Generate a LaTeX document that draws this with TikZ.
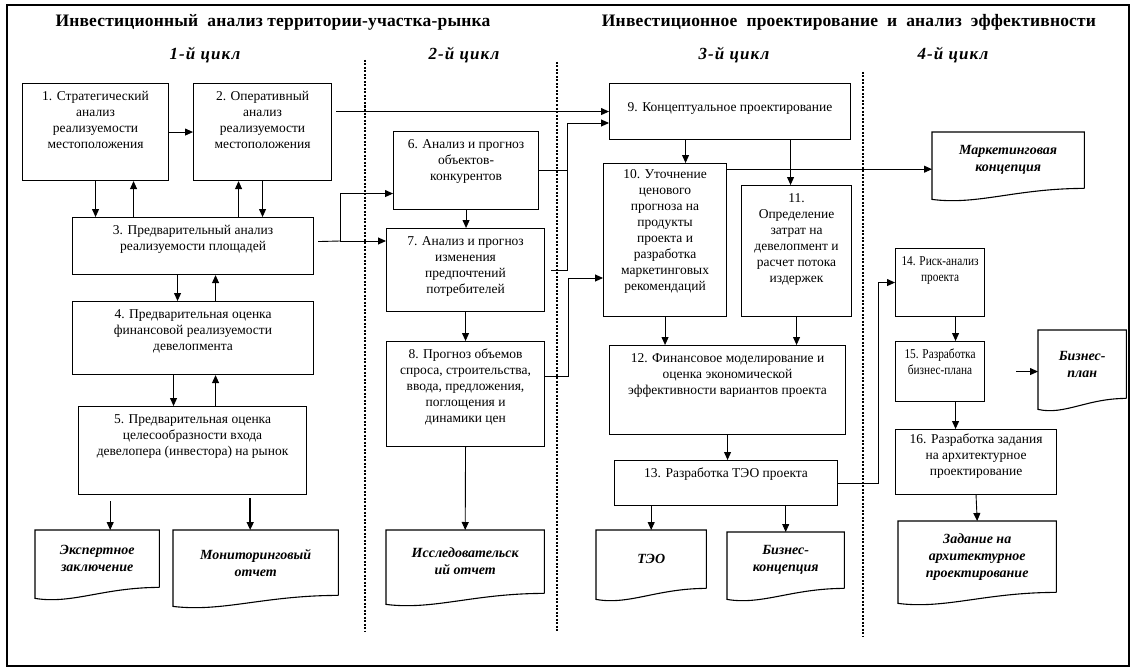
\documentclass[tikz,border=0pt]{standalone}
\usepackage{fontspec}
\setmainfont{Liberation Serif}
\newfontfamily\narrowfont{Liberation Serif}[FakeStretch=0.84]
\usetikzlibrary{calc,arrows.meta}

\tikzset{
  box/.style={draw, line width=1.1pt, anchor=north west, inner sep=0pt},
  txt/.style={anchor=north, align=center, inner sep=0pt, yshift=-8pt,
    font=\fontsize{13.5}{16}\selectfont},
  doc/.style={anchor=north west, inner sep=0pt, align=center,
    font=\fontsize{14}{17}\selectfont\bfseries\itshape},
  arr/.style={-{Triangle[width=7pt,length=8pt]}, line width=0.9pt},
  ln/.style={line width=0.9pt},
  sep/.style={line width=2pt, dash pattern=on 2pt off 1.5pt},
  ttl/.style={font=\fontsize{17.5}{20}\selectfont\bfseries\addfontfeatures{LetterSpace=1}},
  cyc/.style={font=\fontsize{17}{20}\selectfont\bfseries\itshape\addfontfeatures{LetterSpace=6}}
}

\begin{document}
\begin{tikzpicture}[x=1pt,y=-1pt]
  \useasboundingbox (0,0) rectangle (1136,669);
  \draw[line width=1.4pt] (7,5) rectangle (1129,666);

  %%%%% titles %%%%%
  \node[ttl] (t1) at (273,22) {Инвестиционный\ \ анализ территории-участка-рынка};
  \node[ttl] (t2) at (849,22) {Инвестиционное\ \ проектирование\ \ и\ \ анализ\ \ эффективности};
  \node[cyc] (c1) at (205,55) {1-й цикл};
  \node[cyc] (c2) at (464,55) {2-й цикл};
  \node[cyc] (c3) at (734,55) {3-й цикл};
  \node[cyc] (c4) at (953,55) {4-й цикл};

  \draw[sep] (365,60) -- (365,632);
  \draw[sep] (557,62) -- (557,632);
  \draw[sep] (863,72) -- (863,637);

  %%%%% 1-й цикл %%%%%
  \node[box, minimum width=146pt, minimum height=97pt,
    label={[txt]north:{1. Стратегический\\анализ\\реализуемости\\местоположения}}] (b1) at (22,83) {};
  \node[box, minimum width=138pt, minimum height=97pt,
    label={[txt]north:{2. Оперативный\\анализ\\реализуемости\\местоположения}}] (b2) at (193,83) {};
  \node[box, minimum width=241pt, minimum height=57pt,
    label={[txt]north:{3. Предварительный анализ\\реализуемости площадей}}] (b3) at (72,217) {};
  \node[box, minimum width=241pt, minimum height=73pt,
    label={[txt]north:{4. Предварительная оценка\\финансовой реализуемости\\девелопмента}}] (b4) at (72,301) {};
  \node[box, minimum width=228pt, minimum height=88pt,
    label={[txt]north:{5. Предварительная оценка\\целесообразности входа\\девелопера (инвестора) на рынок}}] (b5) at (78,406) {};

  \node[doc, minimum width=124pt, minimum height=57pt] (eksp) at (35,530) {Экспертное\\заключение};
  \node[doc, minimum width=165pt, minimum height=65pt] (monit) at (173,530) {Мониторинговый\\отчет};

  %%%%% 2-й цикл %%%%%
  \node[box, minimum width=145pt, minimum height=78pt,
    label={[txt]north:{6. Анализ и прогноз\\объектов-\\конкурентов}}] (b6) at (393,131) {};
  \node[box, minimum width=158pt, minimum height=83pt,
    label={[txt]north:{7. Анализ и прогноз\\изменения\\предпочтений\\потребителей}}] (b7) at (386,228) {};
  \node[box, minimum width=158pt, minimum height=105pt,
    label={[txt]north:{8. Прогноз объемов\\спроса, строительства,\\ввода, предложения,\\поглощения и\\динамики цен}}] (b8) at (386,341) {};

  \node[doc, minimum width=158pt, minimum height=63pt] (issl) at (386,530) {Исследовательск\\ий отчет};

  %%%%% 3-й цикл %%%%%
  \node[box, minimum width=241pt, minimum height=56pt,
    label={[txt, yshift=-11pt]north:{9. Концептуальное проектирование}}] (b9) at (609,83) {};
  \node[box, minimum width=123pt, minimum height=153pt,
    label={[txt, yshift=2pt]north:{10. Уточнение\\ценового\\прогноза на\\продукты\\проекта и\\разработка\\маркетинговых\\рекомендаций}}] (b10) at (603,163) {};
  \node[box, minimum width=110pt, minimum height=131pt,
    label={[txt]north:{11.\\Определение\\затрат на\\девелопмент и\\расчет потока\\издержек}}] (b11) at (741,185) {};
  \node[box, minimum width=236pt, minimum height=89pt,
    label={[txt]north:{12. Финансовое моделирование и\\оценка экономической\\эффективности вариантов проекта}}] (b12) at (609,345) {};
  \node[box, minimum width=223pt, minimum height=45pt,
    label={[txt]north:{13. Разработка ТЭО проекта}}] (b13) at (614,460) {};

  \node[doc, minimum width=110pt, minimum height=58pt] (teo) at (596,530) {ТЭО};
  \node[doc, minimum width=117pt, minimum height=56pt] (bizc) at (727,532) {Бизнес-\\концепция};
  \node[doc, minimum width=152pt, minimum height=56pt] (mark) at (932,132) {Маркетинговая\\концепция};

  %%%%% 4-й цикл %%%%%
  \node[box, minimum width=89pt, minimum height=68pt,
    label={[txt]north:{\narrowfont 14. Риск-анализ\\\narrowfont проекта}}] (b14) at (895,248) {};
  \node[box, minimum width=89pt, minimum height=60pt,
    label={[txt]north:{\narrowfont 15. Разработка\\\narrowfont бизнес-плана}}] (b15) at (895,341) {};
  \node[box, minimum width=161pt, minimum height=65pt,
    label={[txt, yshift=3pt]north:{16. Разработка задания\\на архитектурное\\проектирование}}] (b16) at (895,429) {};

  \node[doc, minimum width=88pt, minimum height=68pt] (bizp) at (1038,330) {Бизнес-\\план};
  \node[doc, minimum width=158pt, minimum height=71pt] (zad) at (898,521) {Задание на\\архитектурное\\проектирование};

  % document outlines with wavy bottom
  \foreach \dc in {eksp,monit,issl,teo,bizc,mark,bizp,zad}
    \draw[line width=1.1pt] (\dc.south east) -- (\dc.north east) -- (\dc.north west)
      -- ($(\dc.south west)+(0,11)$)
      .. controls ($(\dc.south west)!0.3!(\dc.south east)+(0,17)$)
      and ($(\dc.south west)!0.55!(\dc.south east)$) .. (\dc.south east);

  %%%%% arrows %%%%%
  \draw[arr] (b1) -- (b2);
  \draw[arr] (b1.south) -- (b1.south |- b3.north);
  \draw[arr] ([xshift=-59.5pt]b3.north) -- ([xshift=-59.5pt]b3.north |- b1.south);
  \draw[arr] (b2.south) -- (b2.south |- b3.north);
  \draw[arr] ([xshift=-24pt]b2.south |- b3.north) -- ([xshift=-24pt]b2.south);
  \draw[arr] ([xshift=-15.5pt]b3.south) -- ([xshift=-15.5pt]b4.north);
  \draw[arr] ([xshift=22.5pt]b4.north) -- ([xshift=22.5pt]b3.south);
  \draw[arr] ([xshift=-19.5pt]b4.south) -- ([xshift=-19.5pt]b4.south |- b5.north);
  \draw[arr] ([xshift=22.5pt]b4.south |- b5.north) -- ([xshift=22.5pt]b4.south);
  \draw[arr, shorten <=6pt] ([xshift=13pt]eksp.north |- b5.south) -- ([xshift=13pt]eksp.north);
  \draw[arr, line width=1.6pt, shorten <=3pt] ([xshift=-5.5pt]monit.north |- b5.south) -- ([xshift=-5.5pt]monit.north);

  \draw[arr] ([xshift=4pt]b2.east |- b9.west) -- (b9.west);
  \coordinate (j3) at (340,241);
  \draw[ln] ([xshift=4pt,yshift=4.5pt]b3.east) -- (j3);
  \draw[arr] (j3) |- ([yshift=-23pt]b6.west);
  \draw[arr] (j3) -- (j3 -| b7.west);
  \draw[arr] (b6.south) -- (b6.south |- b7.north);
  \draw[arr] (b7.south) -- (b7.south |- b8.north);
  \draw[arr] (b8.south) -- (issl.north);

  \coordinate (j6) at (567,123);
  \draw[arr] (b6.east) -| (j6) -- (j6 -| b9.west);
  \draw[ln] ([xshift=6pt]b7.east) -| (j6);
  \coordinate (j8) at (568,278);
  \draw[arr] ([yshift=18pt]b8.east) -| (j8) -- (j8 -| b10.west);

  \draw[arr] ([xshift=20.5pt]b10.north |- b9.south) -- ([xshift=20.5pt]b10.north);
  \draw[arr] ([xshift=-6pt]b11.north |- b9.south) -- ([xshift=-6pt]b11.north);
  \coordinate (jm) at ($(mark.west)+(0,9)$);
  \draw[arr] (b10.east |- jm) -- (jm);
  \draw[arr] (b10.south) -- (b10.south |- b12.north);
  \draw[arr] (b11.south) -- (b11.south |- b12.north);
  \draw[arr] (b12.south) -- (b12.south |- b13.north);
  \draw[arr] (b13.south -| teo.north) -- (teo.north);
  \draw[arr] (b13.south -| bizc.north) -- (bizc.north);
  \draw[arr] (b13.east) -- ++(40,0) |- (b14.west);

  \draw[arr] ([xshift=15.5pt]b14.south) -- ([xshift=15.5pt]b14.south |- b15.north);
  \draw[arr] ([xshift=15.5pt]b15.south) -- ([xshift=15.5pt]b15.south |- b16.north);
  \draw[arr] ([xshift=31pt]b15.east) -- (bizp.west |- b15.east);
  \draw[arr] (b16.south) -- (zad.north);
\end{tikzpicture}
\end{document}
